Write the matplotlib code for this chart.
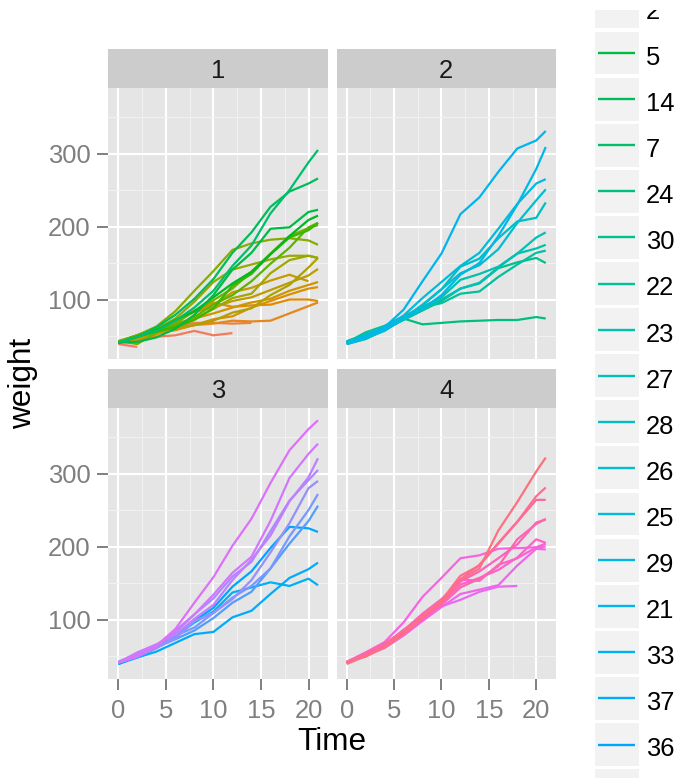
import numpy as np
import matplotlib.pyplot as plt
from matplotlib.patches import Rectangle

plt.rcParams['font.family'] = ['Liberation Sans', 'DejaVu Sans']

times = [0, 2, 4, 6, 8, 10, 12, 14, 16, 18, 20, 21]

# factor levels of Chick (ordered by final weight)
chick_levels = [18, 16, 15, 13, 9, 20, 10, 8, 17, 19, 4, 6, 11, 3, 1, 12, 2, 5, 14, 7,
                24, 30, 22, 23, 27, 28, 26, 25, 29, 21, 33, 37, 36, 31, 39, 38, 32, 40, 34, 35,
                44, 45, 43, 41, 47, 49, 46, 50, 42, 48]

diet1_chicks = list(range(1, 21))
diet1_weights = [
    [42, 51, 59, 64, 76, 93, 106, 125, 149, 171, 199, 205],
    [40, 49, 58, 72, 84, 103, 122, 138, 162, 187, 209, 215],
    [43, 39, 55, 67, 84, 99, 115, 138, 163, 187, 198, 202],
    [42, 49, 56, 67, 74, 87, 102, 108, 136, 154, 160, 157],
    [41, 42, 48, 60, 79, 106, 141, 164, 197, 199, 220, 223],
    [41, 49, 59, 74, 97, 124, 141, 148, 155, 160, 160, 157],
    [41, 49, 57, 71, 89, 112, 146, 174, 218, 250, 288, 305],
    [42, 50, 61, 71, 84, 93, 110, 116, 126, 134, 125],
    [42, 51, 59, 68, 85, 96, 90, 92, 93, 100, 100, 98],
    [41, 44, 52, 63, 74, 81, 89, 96, 101, 112, 120, 124],
    [43, 51, 63, 84, 112, 139, 168, 177, 182, 184, 181, 175],
    [41, 49, 56, 62, 72, 88, 119, 135, 162, 185, 195, 205],
    [41, 48, 53, 60, 65, 67, 71, 70, 71, 81, 91, 96],
    [41, 49, 62, 79, 101, 128, 164, 192, 227, 248, 259, 266],
    [41, 49, 56, 64, 68, 68, 67, 68],
    [41, 45, 49, 51, 57, 51, 54],
    [42, 51, 61, 72, 83, 89, 98, 103, 113, 123, 133, 142],
    [39, 35],
    [43, 48, 55, 62, 65, 71, 82, 88, 106, 120, 144, 157],
    [41, 47, 54, 58, 65, 73, 77, 89, 98, 107, 115, 117],
]

diet2_chicks = list(range(21, 31))
diet2_weights = [
    [40, 50, 62, 86, 125, 163, 217, 240, 275, 307, 318, 331],
    [41, 55, 64, 77, 90, 95, 108, 111, 131, 148, 164, 167],
    [43, 52, 61, 73, 90, 103, 127, 135, 145, 163, 170, 175],
    [42, 52, 58, 74, 66, 68, 70, 71, 72, 72, 76, 74],
    [40, 49, 62, 78, 102, 124, 146, 164, 197, 231, 259, 265],
    [42, 48, 57, 74, 93, 114, 136, 147, 169, 205, 236, 251],
    [39, 46, 58, 73, 87, 100, 115, 123, 144, 163, 185, 192],
    [39, 46, 58, 73, 92, 114, 145, 156, 184, 207, 212, 233],
    [39, 48, 59, 74, 87, 106, 134, 150, 187, 230, 279, 309],
    [42, 48, 59, 72, 85, 98, 115, 122, 143, 151, 157, 150],
]

diet3_chicks = list(range(31, 41))
diet3_weights = [
    [42, 53, 62, 73, 85, 102, 123, 138, 170, 204, 235, 256],
    [41, 49, 65, 82, 107, 129, 159, 179, 221, 263, 291, 305],
    [39, 50, 63, 77, 96, 111, 137, 144, 151, 146, 156, 147],
    [41, 49, 63, 85, 107, 134, 164, 186, 235, 294, 327, 341],
    [41, 53, 64, 87, 123, 158, 201, 238, 287, 332, 361, 373],
    [39, 48, 61, 76, 98, 116, 145, 166, 198, 227, 225, 220],
    [41, 48, 56, 68, 80, 83, 103, 112, 135, 157, 169, 178],
    [41, 49, 61, 74, 98, 109, 128, 154, 192, 232, 280, 290],
    [42, 50, 61, 78, 89, 109, 130, 146, 170, 214, 250, 272],
    [41, 55, 66, 79, 101, 120, 154, 182, 215, 262, 295, 321],
]

diet4_chicks = list(range(41, 51))
diet4_weights = [
    [42, 51, 66, 85, 103, 124, 155, 153, 175, 184, 199, 204],
    [42, 49, 63, 84, 103, 126, 160, 174, 204, 234, 269, 281],
    [42, 55, 69, 96, 131, 157, 184, 188, 197, 198, 199, 200],
    [42, 51, 65, 86, 103, 118, 127, 138, 145, 146],
    [41, 50, 61, 78, 98, 117, 135, 141, 147, 174, 197, 196],
    [40, 52, 62, 82, 101, 120, 144, 156, 173, 210, 231, 238],
    [41, 53, 66, 79, 100, 123, 148, 157, 168, 185, 210, 205],
    [39, 50, 62, 80, 104, 125, 154, 170, 222, 261, 303, 322],
    [40, 53, 64, 85, 108, 128, 152, 166, 184, 203, 233, 237],
    [41, 54, 67, 84, 105, 122, 155, 175, 205, 234, 264, 264],
]

diet_labels = ['1', '2', '3', '4']
diet_chicks = [diet1_chicks, diet2_chicks, diet3_chicks, diet4_chicks]
diet_weights = [diet1_weights, diet2_weights, diet3_weights, diet4_weights]


def hcl(h, c=100.0, l=65.0):
    # polar Luv -> sRGB, as R's hcl()
    u = c * np.cos(np.radians(h))
    v = c * np.sin(np.radians(h))
    Y = 100.0 * ((l + 16) / 116) ** 3
    up = u / (13 * l) + 0.1978398
    vp = v / (13 * l) + 0.4683363
    X = 9.0 * Y * up / (4 * vp)
    Z = -X / 3 - 5 * Y + 3 * Y / vp
    rgb = np.array([3.240479 * X - 1.537150 * Y - 0.498535 * Z,
                    -0.969256 * X + 1.875992 * Y + 0.041556 * Z,
                    0.055648 * X - 0.204043 * Y + 1.057311 * Z]) / 100.0
    out = np.where(rgb > 0.00304, 1.055 * np.abs(rgb) ** (1 / 2.4) - 0.055, 12.92 * rgb)
    return tuple(np.clip(out, 0, 1))


n = len(chick_levels)
hues = np.linspace(15, 375, n + 1)[:-1]
chick_color = {ch: hcl(hues[i]) for i, ch in enumerate(chick_levels)}
chick_rank = {ch: i for i, ch in enumerate(chick_levels)}

W, H = 680, 778
fig = plt.figure(figsize=(W / 100, H / 100), dpi=100)


def px_box(x0, y0, x1, y1):
    return [x0 / W, 1 - y1 / H, (x1 - x0) / W, (y1 - y0) / H]


panel_x = [(108.3, 328.0), (336.7, 555.7)]
panel_y = [(88.0, 359.3), (408.0, 679.3)]
strip_h = 39.0

grey50 = '#7F7F7F'
for i in range(4):
    r, c = divmod(i, 2)
    x0, x1 = panel_x[c]
    y0, y1 = panel_y[r]
    ax = fig.add_axes(px_box(x0, y0, x1, y1))
    ax.set_facecolor('#E5E5E5')
    for s in ax.spines.values():
        s.set_visible(False)
    order = sorted(range(len(diet_chicks[i])), key=lambda j: chick_rank[diet_chicks[i][j]])
    for j in order:
        ch = diet_chicks[i][j]
        w = diet_weights[i][j]
        ax.plot(times[:len(w)], w, color=chick_color[ch], lw=1.6, solid_capstyle='butt')
    ax.set_xlim(-1.05, 22.05)
    ax.set_ylim(18.1, 389.9)
    ax.set_xticks([0, 5, 10, 15, 20])
    ax.set_xticks([2.5, 7.5, 12.5, 17.5], minor=True)
    ax.set_yticks([100, 200, 300])
    ax.set_yticks([50, 150, 250, 350], minor=True)
    ax.grid(which='major', color='white', lw=1.5)
    ax.grid(which='minor', color='#F2F2F2', lw=0.7)
    ax.set_axisbelow(True)
    ax.tick_params(which='minor', length=0)
    ax.tick_params(which='major', length=7.9, width=1.4, color=grey50,
                   labelsize=18.4, labelcolor=grey50)
    ax.tick_params(axis='x', pad=6.5)
    ax.tick_params(axis='y', pad=5.0)
    if r == 0:
        ax.tick_params(axis='x', bottom=False, labelbottom=False)
    if c == 1:
        ax.tick_params(axis='y', left=False, labelleft=False)

    sx = fig.add_axes(px_box(x0, y0 - strip_h, x1, y0))
    sx.set_facecolor('#CCCCCC')
    sx.set_xticks([])
    sx.set_yticks([])
    for s in sx.spines.values():
        s.set_visible(False)
    sx.text(0.5, 0.25, diet_labels[i], ha='center', va='baseline',
            fontsize=18.4, color='#1A1A1A', transform=sx.transAxes)

fig.text(332 / W, 1 - 749.5 / H, 'Time', ha='center', va='baseline', fontsize=22.7)
fig.text(23 / W, 1 - 383 / H, 'weight', ha='center', va='center', rotation=90, fontsize=22.7)

# legend (taller than the figure, so only the middle part shows)
step = 46.1
top_px, bot_px = 10.0, 778.0
k_top = 17 + (top_px - 53) / step
k_bot = 17 + (bot_px - 53) / step
lg = fig.add_axes(px_box(590, top_px, 680, bot_px))
lg.axis('off')
lg.set_xlim(590, 680)
lg.set_ylim(k_bot, k_top)
for k, ch in enumerate(chick_levels):
    if k + 0.5 < k_top or k - 0.5 > k_bot:
        continue
    lg.add_patch(Rectangle((595, k - 0.465), 44, 0.93, facecolor='#F2F2F2',
                           edgecolor='none'))
    lg.plot([598, 635], [k, k], color=chick_color[ch], lw=1.7, solid_capstyle='butt')
    if k - 0.2 < k_bot:
        lg.text(646, k + 0.26, str(ch), ha='left', va='baseline', fontsize=18.4,
                color='black', clip_on=True)

fig.savefig('out.png', dpi=100)
